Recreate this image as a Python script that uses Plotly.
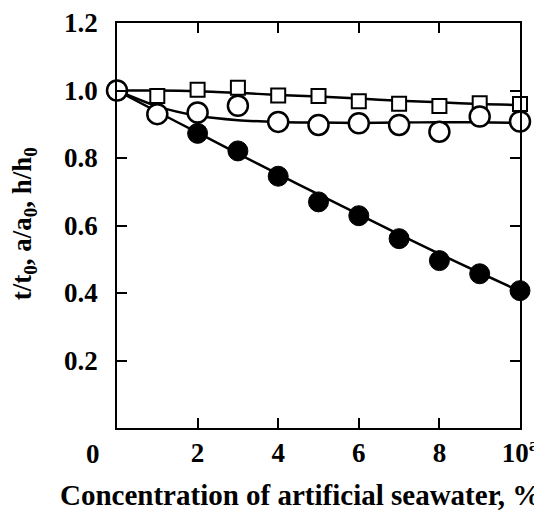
import plotly.graph_objects as go

# Data
conc = [0, 1, 2, 3, 4, 5, 6, 7, 8, 9, 10]
filled_x = [0, 2, 3, 4, 5, 6, 7, 8, 9, 10]
filled_y = [1.0, 0.873, 0.821, 0.746, 0.670, 0.629, 0.561, 0.496, 0.457, 0.407]
open_y = [1.0, 0.930, 0.935, 0.955, 0.907, 0.898, 0.903, 0.898, 0.878, 0.923, 0.908]
square_y = [1.0, 0.984, 1.002, 1.008, 0.985, 0.984, 0.968, 0.961, 0.954, 0.962, 0.960]

# Fitted curves
fit_filled = [1.0, 0.937, 0.875, 0.813, 0.752, 0.692, 0.633, 0.574, 0.516, 0.460, 0.405]
fit_open = [1.0, 0.953, 0.925, 0.912, 0.907, 0.905, 0.904, 0.905, 0.906, 0.906, 0.904]
fit_square = [1.0, 1.0, 0.998, 0.993, 0.987, 0.982, 0.976, 0.970, 0.965, 0.960, 0.957]

x_tickvals = [2, 4, 6, 8, 10]
x_ticktext = ["2", "4", "6", "8", "10<sup>a</sup>"]
y_tickvals = [0.2, 0.4, 0.6, 0.8, 1.0, 1.2]
y_ticktext = ["0.2", "0.4", "0.6", "0.8", "1.0", "1.2"]

x_title = "Concentration of artificial seawater, %"
y_title = "t/t<sub>0</sub>, a/a<sub>0</sub>, h/h<sub>0</sub>"

FONT = "Liberation Serif"
fig = go.Figure()

line_style = dict(color="black", width=2.5, shape="spline", smoothing=0.8)
for fy in (fit_filled, fit_open, fit_square):
    fig.add_trace(go.Scatter(x=conc, y=fy, mode="lines", line=line_style,
                             showlegend=False, hoverinfo="skip", cliponaxis=False))

fig.add_trace(go.Scatter(x=conc, y=square_y, mode="markers",
                         marker=dict(symbol="square", size=14, color="white",
                                     line=dict(color="black", width=2)),
                         showlegend=False, cliponaxis=False))
fig.add_trace(go.Scatter(x=filled_x, y=filled_y, mode="markers",
                         marker=dict(symbol="circle", size=20, color="black",
                                     line=dict(color="black", width=1)),
                         showlegend=False, cliponaxis=False))
fig.add_trace(go.Scatter(x=conc, y=open_y, mode="markers",
                         marker=dict(symbol="circle", size=20, color="white",
                                     line=dict(color="black", width=2.5)),
                         showlegend=False, cliponaxis=False))

tick_font = dict(family=FONT, size=27, color="black", weight="bold")
title_font = dict(family=FONT, size=29, color="black", weight="bold")

axis_common = dict(showline=True, linecolor="black", linewidth=1.5, mirror="ticks",
                   ticks="inside", ticklen=10, tickwidth=1.5, tickcolor="black",
                   showgrid=False, zeroline=False, automargin=False,
                   tickfont=tick_font)

fig.update_xaxes(range=[0, 10], tickvals=x_tickvals, ticktext=x_ticktext,
                 ticklabelstandoff=0, **axis_common)
fig.update_yaxes(range=[0, 1.2], tickvals=y_tickvals, ticktext=y_ticktext,
                 ticklabelstandoff=12, **axis_common)

fig.add_annotation(text="0", x=-0.06, y=-0.0635, xref="paper", yref="paper",
                   xanchor="center", yanchor="middle", showarrow=False,
                   font=tick_font)
fig.add_annotation(text=x_title, x=0.456, y=-0.165, xref="paper", yref="paper",
                   xanchor="center", yanchor="middle", showarrow=False,
                   font=title_font)
fig.add_annotation(text=y_title, x=-0.229, y=0.505, xref="paper", yref="paper",
                   xanchor="center", yanchor="middle", showarrow=False,
                   textangle=-90, font=dict(family=FONT, size=27, color="black", weight="bold"))

# The page body adds an 8px offset, so margins are shifted to compensate.
fig.update_layout(width=542, height=510, margin=dict(l=109, r=30, t=15, b=90),
                  plot_bgcolor="white", paper_bgcolor="white")

fig.write_html("out.html")
